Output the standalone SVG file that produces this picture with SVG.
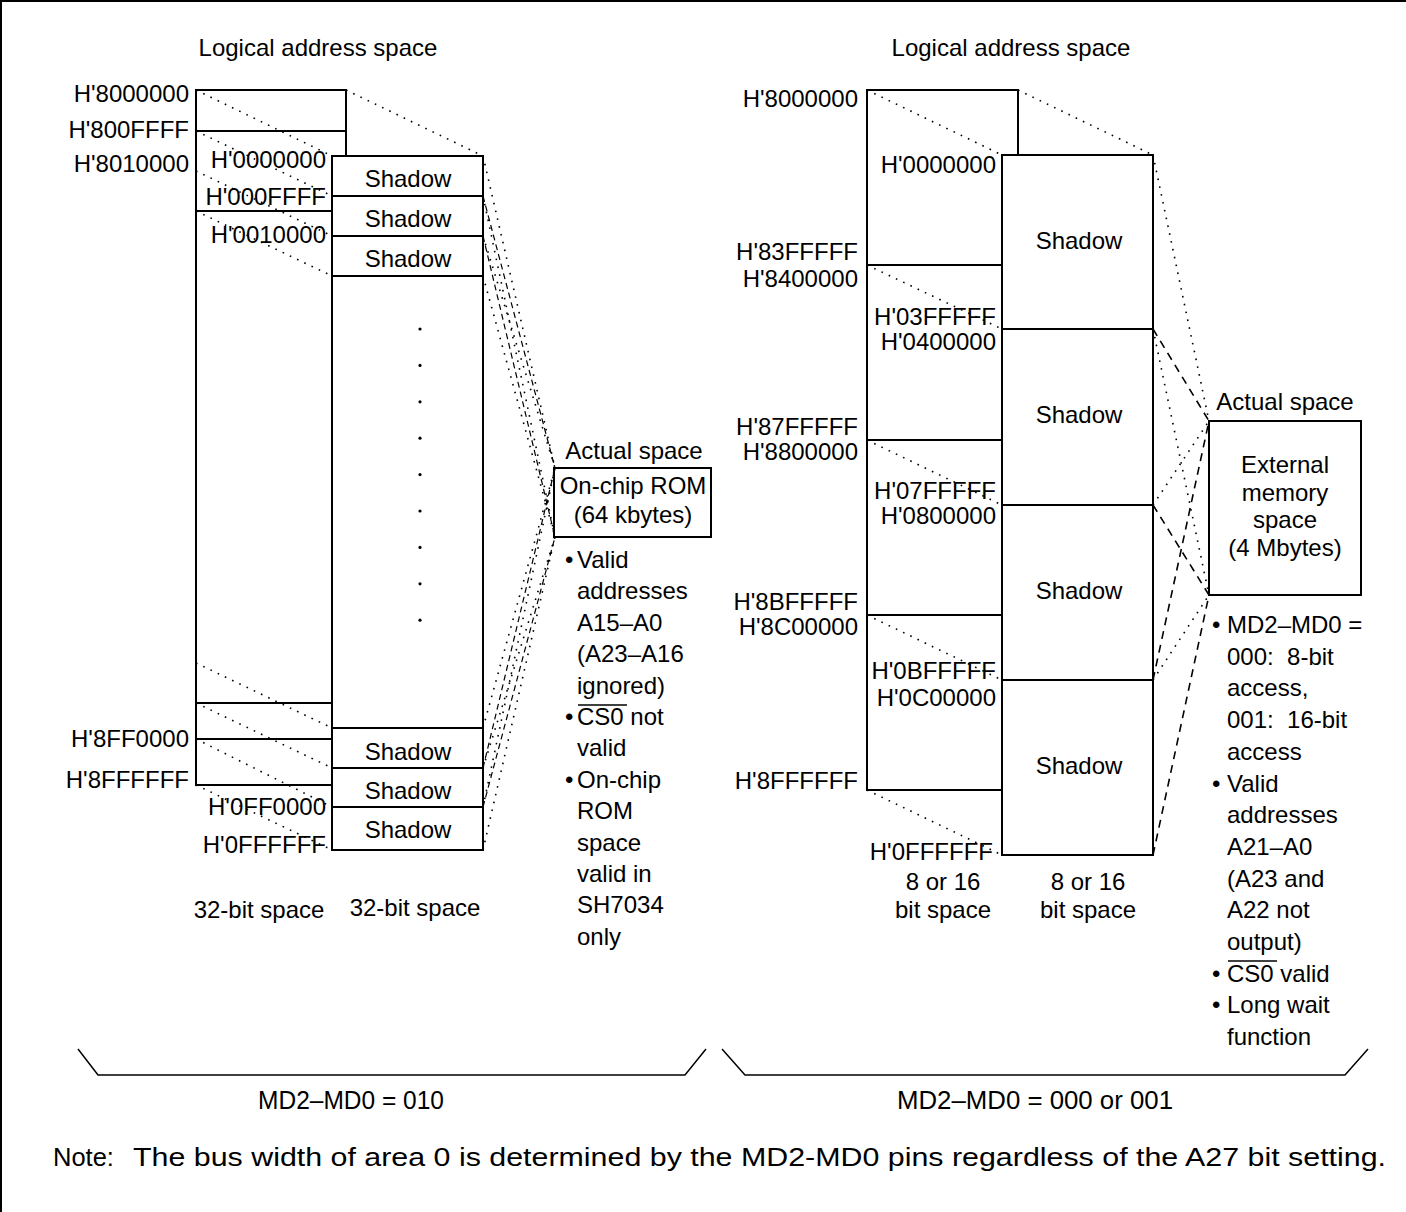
<svg xmlns="http://www.w3.org/2000/svg" width="1406" height="1212" viewBox="0 0 1406 1212">
<style>
text{font-family:"Liberation Sans",Arial,sans-serif;font-size:24px;fill:#000}
.e{text-anchor:end}
.m{text-anchor:middle}
.pre{white-space:pre}
.ln{stroke:#000;stroke-width:2;fill:none}
.dot{stroke:#000;stroke-width:1.6;stroke-dasharray:1.6 6.4;fill:none}
.dsh{stroke:#000;stroke-width:1.2;stroke-dasharray:6 4;fill:none}
.dsh2{stroke:#000;stroke-width:1.6;stroke-dasharray:8 6;fill:none}
.thin{stroke:#000;stroke-width:1.5;fill:none}
.bul{font-size:24px}
.big{font-size:25.5px}
</style>
<g id="frame"><path class="ln" d="M1,1212 V1 H1406"/></g>

<g id="titles">
<text class="m" x="318" y="56">Logical address space</text>
<text class="m" x="1011" y="56">Logical address space</text>
</g>

<g id="connectors">
<path class="dot" d="M196,90 L332,156 M346,90 L483,156 M196,131 L332,196 M196,171 L332,236 M196,211 L332,276 M196,663 L332,728 M196,703 L332,768 M196,739 L332,807 M196,785 L332,850"/>
<path class="dot" d="M483,156 L555,468 M483,196 L555,537"/>
<path class="dsh" d="M483,196 L555,468 M483,236 L555,537"/>
<path class="dot" d="M483,236 L555,468 M483,276 L555,537"/>
<path class="dot" d="M483,728 L555,468 M483,768 L555,537"/>
<path class="dsh" d="M483,768 L555,468 M483,807 L555,537"/>
<path class="dot" d="M483,807 L555,468 M483,850 L555,537"/>
<path class="dot" d="M867,90 L1002,155 M1018,90 L1153,155 M867,265 L1002,329 M867,440 L1002,505 M867,615 L1002,680 M867,790 L1002,855"/>
<path class="dot" d="M1153,155 L1209,421 M1153,329 L1209,595"/>
<path class="dsh2" d="M1153,329 L1209,421 M1153,505 L1209,595"/>
<path class="dot" d="M1153,505 L1209,421 M1153,680 L1209,595"/>
<path class="dsh2" d="M1153,680 L1209,421 M1153,855 L1209,595"/>
</g>

<g id="left-logical">
<path class="ln" d="M332,156 V785 H196 V90 H346 V156"/>
<path class="ln" d="M196,131 H346 M196,211 H332 M196,703 H332 M196,739 H332"/>
<text class="e" x="189" y="102">H'8000000</text>
<text class="e" x="189" y="138">H'800FFFF</text>
<text class="e" x="189" y="172">H'8010000</text>
<text class="e" x="189" y="747">H'8FF0000</text>
<text class="e" x="189" y="788">H'8FFFFFF</text>
<text class="e" x="326" y="168">H'0000000</text>
<text class="e" x="326" y="205">H'000FFFF</text>
<text class="e" x="326" y="243">H'0010000</text>
<text class="e" x="326" y="815">H'0FF0000</text>
<text class="e" x="326" y="853">H'0FFFFFF</text>
</g>

<g id="left-shadow">
<rect x="332" y="156" width="151" height="694" class="ln"/>
<path class="ln" d="M332,196 H483 M332,236 H483 M332,276 H483 M332,728 H483 M332,768 H483 M332,807 H483"/>
<text class="m" x="408" y="187">Shadow</text>
<text class="m" x="408" y="227">Shadow</text>
<text class="m" x="408" y="267">Shadow</text>
<text class="m" x="408" y="760">Shadow</text>
<text class="m" x="408" y="799">Shadow</text>
<text class="m" x="408" y="838">Shadow</text>
<g fill="#000">
<circle cx="420" cy="329" r="1.6"/><circle cx="420" cy="365.4" r="1.6"/><circle cx="420" cy="401.8" r="1.6"/><circle cx="420" cy="438.2" r="1.6"/><circle cx="420" cy="474.6" r="1.6"/><circle cx="420" cy="511" r="1.6"/><circle cx="420" cy="547.4" r="1.6"/><circle cx="420" cy="583.8" r="1.6"/><circle cx="420" cy="620.2" r="1.6"/>
</g>
<text class="m" x="259" y="918">32-bit space</text>
<text class="m" x="415" y="916">32-bit space</text>
</g>

<g id="left-actual">
<text class="m" x="634" y="459">Actual space</text>
<rect x="554" y="468" width="157" height="69" class="ln"/>
<text class="m" x="633" y="494">On-chip ROM</text>
<text class="m" x="633" y="523">(64 kbytes)</text>
<g id="left-notes">
<text x="565" y="568">•</text><text x="577" y="568">Valid</text>
<text x="577" y="599.4">addresses</text>
<text x="577" y="630.8">A15–A0</text>
<text x="577" y="662.2">(A23–A16</text>
<text x="577" y="693.6">ignored)</text>
<text x="565" y="725">•</text><text x="577" y="725">CS0 not</text>
<line x1="578" y1="705" x2="627" y2="705" stroke="#000" stroke-width="1.5"/>
<text x="577" y="756.4">valid</text>
<text x="565" y="787.8">•</text><text x="577" y="787.8">On-chip</text>
<text x="577" y="819.2">ROM</text>
<text x="577" y="850.6">space</text>
<text x="577" y="882">valid in</text>
<text x="577" y="913.4">SH7034</text>
<text x="577" y="944.8">only</text>
</g>
</g>

<g id="right-logical">
<path class="ln" d="M1002,155 V790 H867 V90 H1018 V155"/>
<path class="ln" d="M867,265 H1002 M867,440 H1002 M867,615 H1002"/>
<text class="e" x="858" y="107">H'8000000</text>
<text class="e" x="858" y="260">H'83FFFFF</text>
<text class="e" x="858" y="287">H'8400000</text>
<text class="e" x="858" y="435">H'87FFFFF</text>
<text class="e" x="858" y="460">H'8800000</text>
<text class="e" x="858" y="610">H'8BFFFFF</text>
<text class="e" x="858" y="635">H'8C00000</text>
<text class="e" x="858" y="789">H'8FFFFFF</text>
<text class="e" x="996" y="173">H'0000000</text>
<text class="e" x="996" y="325">H'03FFFFF</text>
<text class="e" x="996" y="350">H'0400000</text>
<text class="e" x="996" y="499">H'07FFFFF</text>
<text class="e" x="996" y="524">H'0800000</text>
<text class="e" x="996" y="679">H'0BFFFFF</text>
<text class="e" x="996" y="706">H'0C00000</text>
<text class="e" x="993" y="860">H'0FFFFFF</text>
<text class="m" x="943" y="890">8 or 16</text>
<text class="m" x="943" y="918">bit space</text>
</g>

<g id="right-shadow">
<rect x="1002" y="155" width="151" height="700" class="ln"/>
<path class="ln" d="M1002,329 H1153 M1002,505 H1153 M1002,680 H1153"/>
<text class="m" x="1079" y="249">Shadow</text>
<text class="m" x="1079" y="423">Shadow</text>
<text class="m" x="1079" y="599">Shadow</text>
<text class="m" x="1079" y="774">Shadow</text>
<text class="m" x="1088" y="890">8 or 16</text>
<text class="m" x="1088" y="918">bit space</text>
</g>

<g id="right-actual">
<text class="m" x="1285" y="410">Actual space</text>
<rect x="1209" y="421" width="152" height="174" class="ln"/>
<text class="m" x="1285" y="473">External</text>
<text class="m" x="1285" y="501">memory</text>
<text class="m" x="1285" y="528">space</text>
<text class="m" x="1285" y="556">(4 Mbytes)</text>
<g id="right-notes">
<text x="1212" y="633">•</text><text x="1227" y="633">MD2–MD0 =</text>
<text class="pre" x="1227" y="664.7">000:  8-bit</text>
<text x="1227" y="696.4">access,</text>
<text class="pre" x="1227" y="728.1">001:  16-bit</text>
<text x="1227" y="759.8">access</text>
<text x="1212" y="791.5">•</text><text x="1227" y="791.5">Valid</text>
<text x="1227" y="823.2">addresses</text>
<text x="1227" y="854.9">A21–A0</text>
<text x="1227" y="886.6">(A23 and</text>
<text x="1227" y="918.3">A22 not</text>
<text x="1227" y="950">output)</text>
<text x="1212" y="981.7">•</text><text x="1227" y="981.7">CS0 valid</text>
<line x1="1228" y1="961" x2="1277" y2="961" stroke="#000" stroke-width="1.5"/>
<text x="1212" y="1013.4">•</text><text x="1227" y="1013.4">Long wait</text>
<text x="1227" y="1045.1">function</text>
</g>
</g>

<g id="braces">
<path class="thin" d="M78,1049 L98,1075 H685 L706,1049"/>
<path class="thin" d="M722,1049 L745,1075 H1345 L1368,1049"/>
<text class="m big" x="351" y="1109" textLength="186" lengthAdjust="spacingAndGlyphs">MD2–MD0 = 010</text>
<text class="m big" x="1035" y="1109" textLength="276" lengthAdjust="spacingAndGlyphs">MD2–MD0 = 000 or 001</text>
</g>

<g id="note">
<text x="53" y="1166" class="big">Note:</text>
<text x="133" y="1166" class="big" textLength="1253" lengthAdjust="spacingAndGlyphs">The bus width of area 0 is determined by the MD2-MD0 pins regardless of the A27 bit setting.</text>
</g>
</svg>
